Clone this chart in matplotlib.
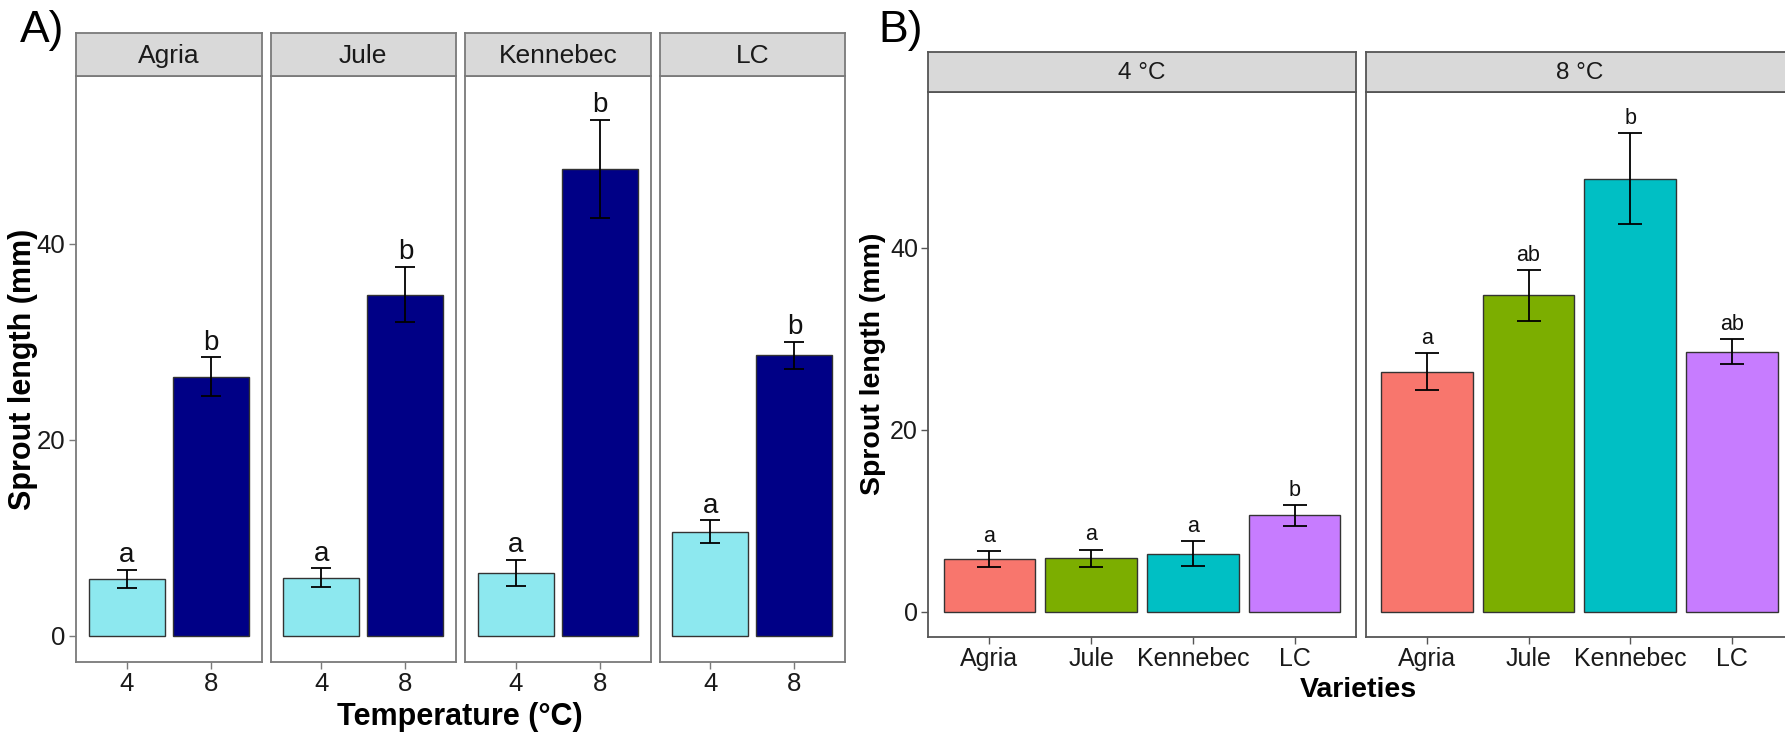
import matplotlib
matplotlib.use('Agg')
import matplotlib.pyplot as plt

plt.rcParams['font.family'] = ['Liberation Sans', 'DejaVu Sans']

# ---------------- data ----------------
varieties = ['Agria', 'Jule', 'Kennebec', 'LC']
temps = ['4', '8']
mean_4 = [5.8, 5.9, 6.4, 10.6]
se_4 = [0.9, 0.95, 1.35, 1.15]
mean_8 = [26.4, 34.8, 47.6, 28.6]
se_8 = [2.0, 2.8, 5.0, 1.4]
letters_A_4 = ['a', 'a', 'a', 'a']
letters_A_8 = ['b', 'b', 'b', 'b']
letters_B_4 = ['a', 'a', 'a', 'b']
letters_B_8 = ['a', 'ab', 'b', 'ab']
temp_strips = ['4 °C', '8 °C']
yticks = [0, 20, 40]
colors_temp = ['#8DE8EF', '#000086']
colors_var = ['#F8766D', '#7CAE00', '#00BFC4', '#C77CFF']

W, H = 1785, 734
fig = plt.figure(figsize=(W / 100, H / 100), dpi=100)


def px_axes(x0, y0, x1, y1):
    return fig.add_axes([x0 / W, 1 - y1 / H, (x1 - x0) / W, (y1 - y0) / H])


def strip(x0, y0, x1, y1, label, size, ec):
    s = px_axes(x0, y0, x1, y1)
    s.set_facecolor('#D9D9D9')
    s.set_xticks([]); s.set_yticks([])
    for sp in s.spines.values():
        sp.set_color(ec); sp.set_linewidth(1.3)
    s.text(0.5, 0.47, label, ha='center', va='center', fontsize=size,
           color='#1a1a1a', transform=s.transAxes)
    return s


def style(ax, ec, show_y, tsize):
    for sp in ax.spines.values():
        sp.set_color(ec); sp.set_linewidth(1.3)
    ax.tick_params(axis='both', colors=ec, length=5, width=1.0,
                   labelsize=tsize, labelcolor='#1a1a1a', pad=2.5)
    ax.set_yticks(yticks)
    if not show_y:
        ax.tick_params(axis='y', left=False, labelleft=False)


# ---------------- panel A ----------------
ecA = '#7A7A7A'
pw, gap = 185.5, 9.0
for i, v in enumerate(varieties):
    x0 = 76 + i * (pw + gap)
    ax = px_axes(x0, 76, x0 + pw, 662)
    strip(x0, 33, x0 + pw, 76, v, 19, ecA)
    xs = [1, 2]
    means = [mean_4[i], mean_8[i]]
    ses = [se_4[i], se_8[i]]
    ax.bar(xs, means, width=0.9, color=colors_temp, edgecolor='#333333',
           linewidth=1.0, zorder=2)
    ax.errorbar(xs, means, yerr=ses, fmt='none', ecolor='black',
                elinewidth=1.3, capsize=7.2, capthick=1.3, zorder=3)
    for x, m, s, lab in zip(xs, means, ses, [letters_A_4[i], letters_A_8[i]]):
        ax.annotate(lab, (x, m + s), xytext=(0, 5.5), textcoords='offset points',
                    ha='center', va='baseline', fontsize=20, color='#111111')
    ax.set_xlim(0.4, 2.6)
    ax.set_ylim(-2.7, 57.1)
    ax.set_xticks(xs)
    ax.set_xticklabels(temps)
    style(ax, ecA, i == 0, 18.5)

fig.text(20 / W, 1 - 42 / H, 'A)', fontsize=32, ha='left', va='baseline')
fig.text(23 / W, 1 - 369 / H, 'Sprout length (mm)', rotation=90, fontsize=22,
         fontweight='bold', ha='center', va='center')
fig.text(460 / W, 1 - 725 / H, 'Temperature (°C)', fontsize=22,
         fontweight='bold', ha='center', va='baseline')

# ---------------- panel B ----------------
ecB = '#555555'
bw = 427.4
bx0 = [928.3, 1365.7]
for j, lab in enumerate(temp_strips):
    x0 = bx0[j]
    ax = px_axes(x0, 92.2, x0 + bw, 636.7)
    strip(x0, 52.4, x0 + bw, 92.2, lab, 17.5, ecB)
    xs = [1, 2, 3, 4]
    means = mean_4 if j == 0 else mean_8
    ses = se_4 if j == 0 else se_8
    lets = letters_B_4 if j == 0 else letters_B_8
    ax.bar(xs, means, width=0.9, color=colors_var, edgecolor='#333333',
           linewidth=1.0, zorder=2)
    ax.errorbar(xs, means, yerr=ses, fmt='none', ecolor='black',
                elinewidth=1.3, capsize=8.3, capthick=1.3, zorder=3)
    for x, m, s, l in zip(xs, means, ses, lets):
        ax.annotate(l, (x, m + s), xytext=(0, 6.5), textcoords='offset points',
                    ha='center', va='baseline', fontsize=15.5, color='#111111')
    ax.set_xlim(0.4, 4.6)
    ax.set_ylim(-2.73, 57.1)
    ax.set_xticks(xs)
    ax.set_xticklabels(varieties)
    style(ax, ecB, j == 0, 18)

fig.text(878 / W, 1 - 42 / H, 'B)', fontsize=32, ha='left', va='baseline')
fig.text(873 / W, 1 - 364 / H, 'Sprout length (mm)', rotation=90, fontsize=20.5,
         fontweight='bold', ha='center', va='center')
fig.text(1358 / W, 1 - 697 / H, 'Varieties', fontsize=20.5,
         fontweight='bold', ha='center', va='baseline')

fig.savefig('out.png', dpi=100)
